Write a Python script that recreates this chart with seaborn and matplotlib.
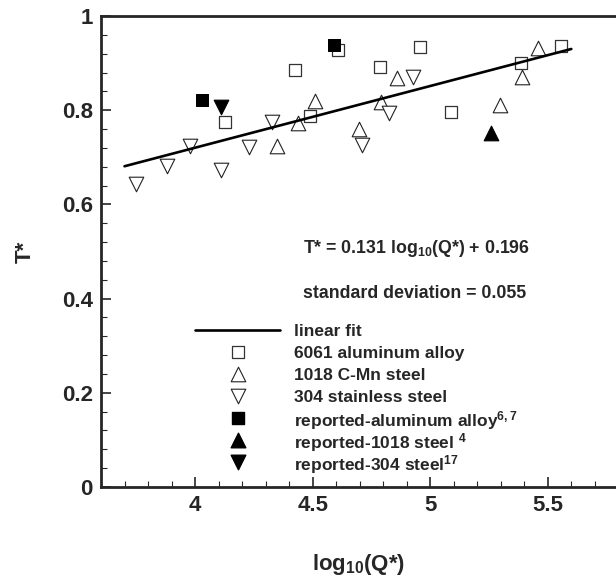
import numpy as np
import pandas as pd
import matplotlib
matplotlib.use("Agg")
import matplotlib.pyplot as plt
import seaborn as sns
from matplotlib.ticker import MultipleLocator

# data
al6061_x = [4.127, 4.427, 4.487, 4.607, 4.787, 4.958, 5.088, 5.387, 5.556]
al6061_y = [0.776, 0.885, 0.788, 0.928, 0.892, 0.935, 0.797, 0.901, 0.937]

cmn1018_x = [4.349, 4.438, 4.508, 4.699, 4.791, 4.859, 5.297, 5.389, 5.458]
cmn1018_y = [0.725, 0.773, 0.820, 0.761, 0.818, 0.868, 0.811, 0.871, 0.931]

ss304_x = [3.750, 3.880, 3.979, 4.110, 4.230, 4.329, 4.709, 4.826, 4.928]
ss304_y = [0.643, 0.682, 0.725, 0.672, 0.722, 0.776, 0.726, 0.793, 0.870]

rep_al_x = [4.028, 4.589]
rep_al_y = [0.822, 0.938]
rep_1018_x = [5.260]
rep_1018_y = [0.751]
rep_304_x = [4.110]
rep_304_y = [0.807]

fit_x = [3.70, 5.60]
fit_y = [0.681, 0.930]

labels = ['linear fit', '6061 aluminum alloy', '1018 C-Mn steel', '304 stainless steel',
          'reported-aluminum alloy$^{6,7}$', 'reported-1018 steel $^{4}$',
          'reported-304 steel$^{17}$']

sns.set_style("ticks")
plt.rcParams['font.family'] = ['Liberation Sans', 'DejaVu Sans']
plt.rcParams['font.weight'] = 'bold'
plt.rcParams['mathtext.default'] = 'regular'

fig = plt.figure(figsize=(6.16, 5.76), dpi=100)
ax = fig.add_axes([101/616, 89/576, 515/616, 471/576])

ms = 9.0   # square side in pt
mt = 10.5  # triangle size in pt
open_sq = dict(marker='s', s=ms**2, facecolor='white', edgecolor='#333333', linewidth=0.9)
open_up = dict(marker='^', s=mt**2, facecolor='white', edgecolor='#222222', linewidth=0.8)
open_dn = dict(marker='v', s=mt**2, facecolor='white', edgecolor='#222222', linewidth=0.8)
full_sq = dict(marker='s', s=ms**2, color='black', edgecolor='black')
full_up = dict(marker='^', s=mt**2, color='black', edgecolor='black')
full_dn = dict(marker='v', s=mt**2, color='black', edgecolor='black')

sns.lineplot(x=fit_x, y=fit_y, color='black', linewidth=1.9, ax=ax)
sns.scatterplot(x=al6061_x, y=al6061_y, ax=ax, **open_sq)
sns.scatterplot(x=cmn1018_x, y=cmn1018_y, ax=ax, **open_up)
sns.scatterplot(x=ss304_x, y=ss304_y, ax=ax, **open_dn)
sns.scatterplot(x=rep_al_x, y=rep_al_y, ax=ax, zorder=1, **full_sq)
sns.scatterplot(x=rep_1018_x, y=rep_1018_y, ax=ax, **full_up)
sns.scatterplot(x=rep_304_x, y=rep_304_y, ax=ax, **full_dn)

ax.set_xlim(3.6, 5.79)
ax.set_ylim(0, 1)
ax.xaxis.set_minor_locator(MultipleLocator(0.1))
ax.yaxis.set_minor_locator(MultipleLocator(0.04))
ax.set_xticks([4, 4.5, 5, 5.5])
ax.set_xticklabels(['4', '4.5', '5', '5.5'])
ax.set_yticks([0, 0.2, 0.4, 0.6, 0.8, 1])
ax.set_yticklabels(['0', '0.2', '0.4', '0.6', '0.8', '1'])
ax.tick_params(which='major', direction='in', length=7.2, width=1.2, labelsize=16, pad=6)
ax.tick_params(which='minor', direction='in', length=4.5, width=0.8)
for lab in ax.get_xticklabels() + ax.get_yticklabels():
    lab.set_fontweight('bold')

for side in ['left', 'bottom', 'top']:
    ax.spines[side].set_linewidth(2.0)
ax.spines['right'].set_visible(False)

ax.set_xlabel(r'log$_{10}$(Q*)', fontsize=16, fontweight='bold', labelpad=26)
ax.set_ylabel('T*', fontsize=16, fontweight='bold', labelpad=19)

ax.text(4.457, 0.496, r'T* = 0.131 log$_{10}$(Q*) + 0.196', fontsize=12.8,
        fontweight='bold', ha='left', va='baseline')
ax.text(4.457, 0.401, 'standard deviation = 0.055', fontsize=12.8,
        fontweight='bold', ha='left', va='baseline')

# legend, laid out row by row in axes fractions
row_y = [(487 - py) / 471 for py in [330, 352, 374, 396, 418, 440, 462]]
sym_x = (237.5 - 101) / 515
txt_x = (294 - 101) / 515
tr = ax.transAxes
ax.plot([(195 - 101) / 515, (280 - 101) / 515], [row_y[0]] * 2, color='black',
        linewidth=1.9, transform=tr, clip_on=False)
for style, yy in zip([open_sq, open_up, open_dn, full_sq, full_up, full_dn], row_y[1:]):
    ax.scatter([sym_x], [yy], transform=tr, clip_on=False, **style)
for lab, yy in zip(labels, row_y):
    ax.text(txt_x, yy, lab, transform=tr, fontsize=12.5, fontweight='bold',
            ha='left', va='center_baseline')

fig.savefig('out.png', dpi=100)
